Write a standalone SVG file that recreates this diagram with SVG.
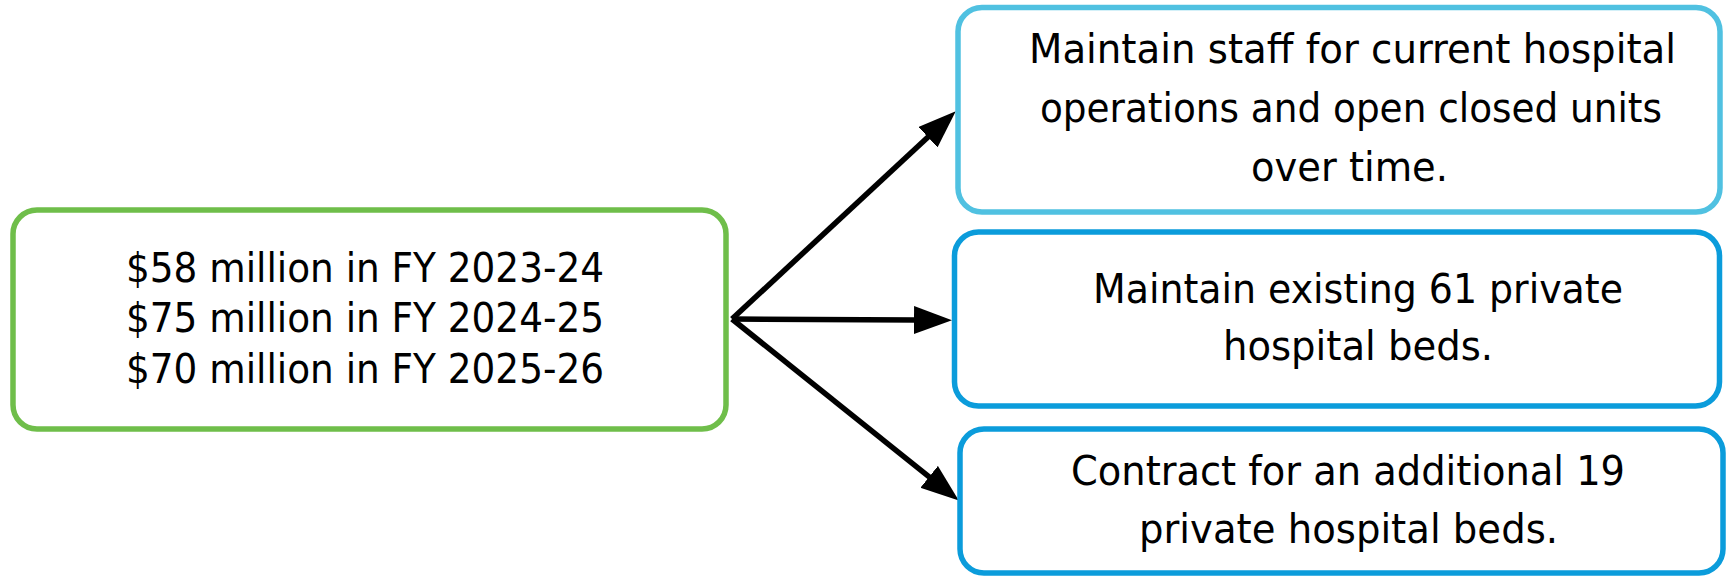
<svg xmlns="http://www.w3.org/2000/svg" width="1731" height="578" viewBox="0 0 1731 578">
  <style>
    .box { fill: #ffffff; stroke-width: 5.5; }
    .green { stroke: #6fbe4a; }
    .light { stroke: #50c1e1; }
    .blue { stroke: #0b9cdb; }
    .t { font-family: "DejaVu Sans Condensed", "DejaVu Sans", sans-serif; font-stretch: condensed; font-size: 41px; fill: #000000; }
    .conn { stroke: #000000; stroke-width: 5.5; fill: none; }
  </style>
  <defs>
    <marker id="arrow" markerUnits="userSpaceOnUse" markerWidth="42" markerHeight="32" refX="2" refY="14" orient="auto">
      <path d="M0,0 L38,14 L0,28 z" fill="#000000"/>
    </marker>
  </defs>

  <g id="connectors">
    <line class="conn" x1="732" y1="319" x2="929.4" y2="135.8" marker-end="url(#arrow)"/>
    <line class="conn" x1="732" y1="319" x2="916" y2="320" marker-end="url(#arrow)"/>
    <line class="conn" x1="732" y1="319" x2="930.7" y2="478.1" marker-end="url(#arrow)"/>
  </g>

  <g id="funding">
    <rect class="box green" x="13" y="210" width="713" height="219" rx="24" ry="24"/>
    <text class="t" x="126" y="282" textLength="478" lengthAdjust="spacingAndGlyphs">$58 million in FY 2023-24</text>
    <text class="t" x="126" y="332" textLength="478" lengthAdjust="spacingAndGlyphs">$75 million in FY 2024-25</text>
    <text class="t" x="126" y="383" textLength="478" lengthAdjust="spacingAndGlyphs">$70 million in FY 2025-26</text>
  </g>

  <g id="staff">
    <rect class="box light" x="958" y="7.5" width="762" height="204.5" rx="24" ry="24"/>
    <text class="t" x="1029" y="63" textLength="647" lengthAdjust="spacingAndGlyphs">Maintain staff for current hospital</text>
    <text class="t" x="1040" y="122" textLength="622" lengthAdjust="spacingAndGlyphs">operations and open closed units</text>
    <text class="t" x="1251" y="181" textLength="197" lengthAdjust="spacingAndGlyphs">over time.</text>
  </g>

  <g id="existing-beds">
    <rect class="box blue" x="954.5" y="232" width="765" height="174" rx="24" ry="24"/>
    <text class="t" x="1093" y="303" textLength="530" lengthAdjust="spacingAndGlyphs">Maintain existing 61 private</text>
    <text class="t" x="1223" y="360" textLength="270" lengthAdjust="spacingAndGlyphs">hospital beds.</text>
  </g>

  <g id="additional-beds">
    <rect class="box blue" x="960" y="429" width="763" height="144" rx="24" ry="24"/>
    <text class="t" x="1071" y="485" textLength="554" lengthAdjust="spacingAndGlyphs">Contract for an additional 19</text>
    <text class="t" x="1139" y="543" textLength="419" lengthAdjust="spacingAndGlyphs">private hospital beds.</text>
  </g>
</svg>
